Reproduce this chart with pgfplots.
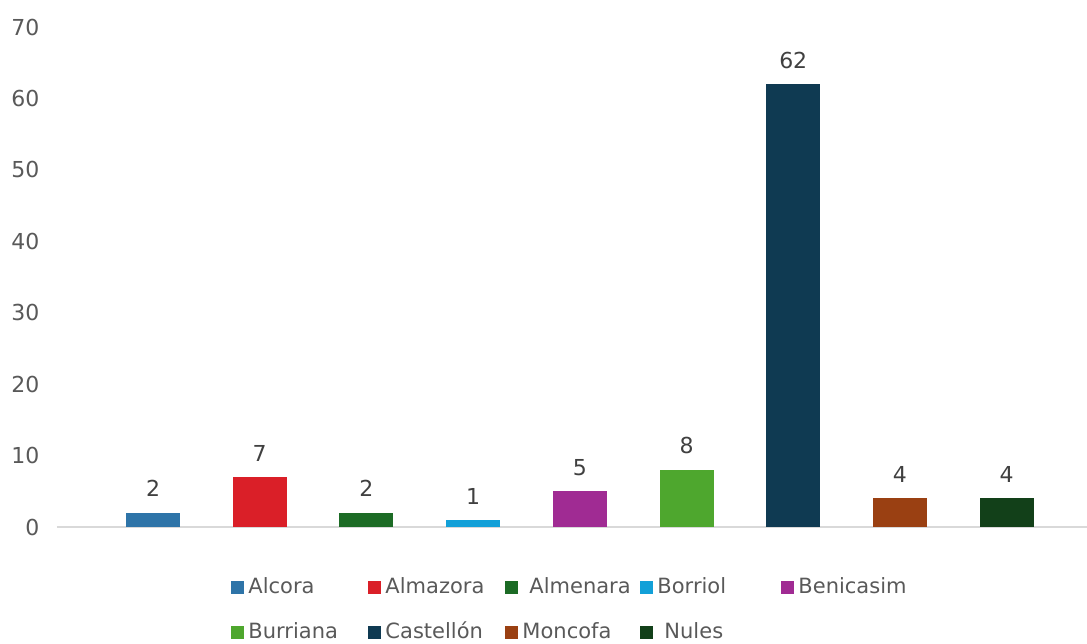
\documentclass[border=0pt]{standalone}
\usepackage{pgfplots}
\pgfplotsset{compat=1.18}
\usepackage{fontspec}
\setmainfont{DejaVu Sans}
\definecolor{cAlcora}{HTML}{2E74A8}
\definecolor{cAlmazora}{HTML}{DA1F28}
\definecolor{cAlmenara}{HTML}{1C6B25}
\definecolor{cBorriol}{HTML}{12A0D8}
\definecolor{cBenicasim}{HTML}{A02B93}
\definecolor{cBurriana}{HTML}{4EA72E}
\definecolor{cCastellon}{HTML}{0F3A52}
\definecolor{cMoncofa}{HTML}{9A4012}
\definecolor{cNules}{HTML}{124019}
\definecolor{tickc}{HTML}{595959}
\definecolor{lblc}{HTML}{404040}
\definecolor{basec}{HTML}{D9D9D9}
\begin{document}
\fontsize{11}{13}\selectfont
\begin{tikzpicture}
\useasboundingbox (0,0) rectangle (543.5pt,321.5pt);
\begin{axis}[
  at={(28.5pt,58pt)}, anchor=south west,
  scale only axis, width=515pt, height=250pt,
  xmin=-0.9, xmax=8.753, ymin=0, ymax=70,
  ytick={0,10,...,70}, xtick=\empty,
  major tick length=0pt,
  axis line style={draw=none},
  /pgf/number format/assume math mode=true,
  ybar, bar width=0.506, bar shift=0pt,
  yticklabel style={font=\fontsize{11}{13}\selectfont, text=tickc, xshift=-5pt},
  nodes near coords,
  every node near coord/.append style={font=\fontsize{11}{13}\selectfont, text=lblc, yshift=4pt},
  legend columns=5,
  legend style={at={(0.169,-0.097)}, anchor=north west, draw=none, fill=none,
    inner sep=0pt, font=\fontsize{10.5}{12.5}\selectfont, text=tickc,
    nodes={inner sep=1pt},
    /tikz/row sep=10.5pt, /tikz/column sep=0pt,
    /tikz/every odd column/.append style={column sep=1pt}},
  legend image code/.code={\fill[#1] (0pt,-3.25pt) rectangle (6.5pt,3.25pt);},
]
\draw[basec, line width=1pt] (rel axis cs:0,0) -- (rel axis cs:1,0);
\addplot[fill=cAlcora, draw=none] coordinates {(0,2)};
\addlegendentry{\makebox[59pt][l]{Alcora}}
\addplot[fill=cAlmazora, draw=none] coordinates {(1,7)};
\addlegendentry{\makebox[59pt][l]{Almazora}}
\addplot[fill=cAlmenara, draw=none] coordinates {(2,2)};
\addlegendentry{\makebox[58pt][l]{\hspace{3.5pt}Almenara}}
\addplot[fill=cBorriol, draw=none] coordinates {(3,1)};
\addlegendentry{\makebox[61pt][l]{Borriol}}
\addplot[fill=cBenicasim, draw=none] coordinates {(4,5)};
\addlegendentry{Benicasim}
\addplot[fill=cBurriana, draw=none] coordinates {(5,8)};
\addlegendentry{\makebox[59pt][l]{Burriana}}
\addplot[fill=cCastellon, draw=none] coordinates {(6,62)};
\addlegendentry{\makebox[59pt][l]{Castellón}}
\addplot[fill=cMoncofa, draw=none] coordinates {(7,4)};
\addlegendentry{\makebox[58pt][l]{Moncofa}}
\addplot[fill=cNules, draw=none] coordinates {(8,4)};
\addlegendentry{\makebox[61pt][l]{\hspace{3.5pt}Nules}}
\end{axis}
\end{tikzpicture}
\end{document}
